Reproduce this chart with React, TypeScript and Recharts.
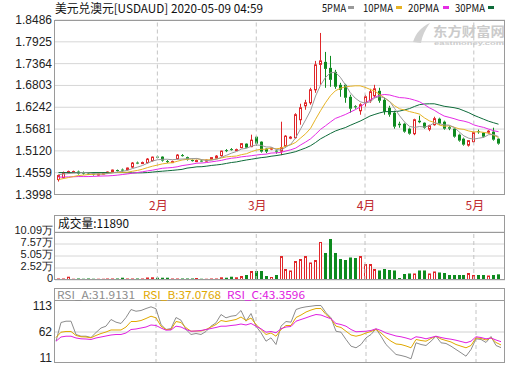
import React from 'react';
import { ComposedChart, Bar, Line, XAxis, YAxis, CartesianGrid, ReferenceLine } from 'recharts';

const RED = '#e0272a';
const GREEN = '#0d8a1e';
const C_MA5 = '#9a9a9a';
const C_MA10 = '#e6b325';
const C_MA20 = '#e52ce5';
const C_MA30 = '#0e6b3a';
const C_RSI_A = '#8c8c8c';
const C_RSI_B = '#e0a800';
const C_RSI_C = '#e020e0';

const monthStartIndex = [20, 40, 62, 84];
const monthLabels = ['2月', '3月', '4月', '5月'];
const priceTicks = [1.3998, 1.4559, 1.512, 1.5681, 1.6242, 1.6803, 1.7364, 1.7925, 1.8486];
const volumeTicks = [0, 25225, 50450, 75675, 100900];
const volumeTickLabels = ['0', '2.52万', '5.05万', '7.57万', '10.09万'];
const rsiTicks = [11, 62, 113];

const open = [1.4382,1.4434,1.4575,1.4575,1.4588,1.4562,1.4536,1.4536,1.4511,1.4524,
 1.4549,1.4575,1.4626,1.4639,1.4639,1.4703,1.4819,1.4806,1.4819,1.4870,
 1.4972,1.4972,1.4857,1.4831,1.4921,1.5011,1.4959,1.4883,1.4857,1.4870,
 1.4857,1.4896,1.4934,1.4998,1.5139,1.5165,1.5139,1.5203,1.5306,1.5229,
 1.5485,1.5357,1.5178,1.5165,1.5126,1.5113,1.5242,1.5447,1.5460,1.5921,
 1.6280,1.6357,1.6691,1.7345,1.7409,1.7255,1.7152,1.6819,1.6819,1.6511,
 1.6268,1.6152,1.6357,1.6409,1.6537,1.6665,1.6434,1.6229,1.6101,1.5819,
 1.5819,1.5691,1.5562,1.5896,1.5844,1.5678,1.5793,1.5947,1.5870,1.5729,
 1.5691,1.5537,1.5434,1.5267,1.5357,1.5626,1.5588,1.5601,1.5614,1.5434];

const close = [1.4485,1.4562,1.4588,1.4588,1.4536,1.4536,1.4524,1.4511,1.4524,1.4549,
 1.4575,1.4626,1.4613,1.4613,1.4678,1.4806,1.4806,1.4819,1.4908,1.4959,
 1.4959,1.4870,1.4831,1.4844,1.5011,1.4998,1.4896,1.4857,1.4870,1.4857,
 1.4883,1.4947,1.4985,1.5113,1.5113,1.5152,1.5152,1.5306,1.5203,1.5395,
 1.5306,1.5101,1.5101,1.5190,1.5101,1.5203,1.5498,1.5472,1.6050,1.6229,
 1.6357,1.6691,1.7332,1.7434,1.7229,1.6947,1.6768,1.6691,1.6486,1.6204,
 1.6242,1.6306,1.6511,1.6640,1.6716,1.6409,1.6127,1.6050,1.5742,1.5780,
 1.5614,1.5562,1.5921,1.5857,1.5716,1.5768,1.5947,1.5819,1.5691,1.5691,
 1.5485,1.5383,1.5280,1.5383,1.5588,1.5601,1.5485,1.5626,1.5408,1.5306];

const high = [1.4511,1.4588,1.4613,1.4613,1.4613,1.4588,1.4562,1.4562,1.4536,1.4562,
 1.4588,1.4639,1.4639,1.4665,1.4690,1.4831,1.4844,1.4844,1.4934,1.4972,
 1.4998,1.4985,1.4883,1.4870,1.5037,1.5037,1.4972,1.4896,1.4896,1.4896,
 1.4896,1.4959,1.5011,1.5126,1.5165,1.5190,1.5178,1.5318,1.5318,1.5537,
 1.5498,1.5370,1.5190,1.5203,1.5139,1.5870,1.5524,1.5498,1.6088,1.6332,
 1.6434,1.6742,1.7434,1.8153,1.7665,1.7563,1.7204,1.6870,1.6845,1.6563,
 1.6293,1.6344,1.6563,1.6716,1.6819,1.6742,1.6486,1.6280,1.6152,1.5870,
 1.5844,1.5716,1.5947,1.6024,1.5857,1.5793,1.5998,1.5973,1.5896,1.5755,
 1.5703,1.5562,1.5460,1.5395,1.5614,1.5665,1.5601,1.5652,1.5716,1.5447];

const low = [1.4331,1.4408,1.4536,1.4549,1.4511,1.4511,1.4498,1.4485,1.4485,1.4511,
 1.4536,1.4562,1.4588,1.4588,1.4613,1.4678,1.4780,1.4780,1.4793,1.4844,
 1.4934,1.4844,1.4806,1.4806,1.4896,1.4972,1.4870,1.4844,1.4831,1.4831,
 1.4844,1.4883,1.4921,1.4972,1.5088,1.5126,1.5126,1.5190,1.5190,1.5216,
 1.5254,1.5075,1.5062,1.5139,1.5049,1.5011,1.5203,1.5421,1.5434,1.5793,
 1.6178,1.6306,1.6614,1.6819,1.6742,1.6768,1.6716,1.6511,1.6357,1.6101,
 1.6204,1.6050,1.6255,1.6357,1.6486,1.6357,1.6050,1.5998,1.5691,1.5716,
 1.5588,1.5537,1.5524,1.5832,1.5691,1.5626,1.5768,1.5793,1.5665,1.5652,
 1.5460,1.5357,1.5254,1.5229,1.5331,1.5562,1.5460,1.5562,1.5383,1.5280];

const ma5 = [1.4510,1.4523,1.4536,1.4549,1.4551,1.4562,1.4554,1.4539,1.4526,1.4528,
 1.4536,1.4556,1.4577,1.4595,1.4621,1.4667,1.4703,1.4744,1.4803,1.4859,
 1.4890,1.4903,1.4905,1.4893,1.4903,1.4910,1.4916,1.4921,1.4926,1.4895,
 1.4872,1.4882,1.4908,1.4957,1.5008,1.5062,1.5103,1.5167,1.5185,1.5241,
 1.5272,1.5262,1.5221,1.5218,1.5159,1.5139,1.5218,1.5293,1.5464,1.5690,
 1.5921,1.6160,1.6531,1.6808,1.7009,1.7127,1.7142,1.7014,1.6824,1.6619,
 1.6478,1.6385,1.6349,1.6380,1.6483,1.6516,1.6480,1.6388,1.6208,1.6021,
 1.5862,1.5749,1.5723,1.5746,1.5734,1.5764,1.5841,1.5821,1.5788,1.5782,
 1.5726,1.5613,1.5505,1.5444,1.5423,1.5446,1.5467,1.5536,1.5541,1.5485];

const ma10 = [1.4382,1.4408,1.4433,1.4459,1.4485,1.4497,1.4510,1.4518,1.4523,1.4521,
 1.4544,1.4559,1.4564,1.4567,1.4572,1.4597,1.4618,1.4649,1.4690,1.4726,
 1.4754,1.4785,1.4803,1.4818,1.4851,1.4885,1.4903,1.4910,1.4916,1.4892,
 1.4887,1.4895,1.4910,1.4939,1.4967,1.4977,1.4987,1.5023,1.5046,1.5098,
 1.5139,1.5162,1.5162,1.5193,1.5172,1.5190,1.5244,1.5277,1.5341,1.5454,
 1.5562,1.5703,1.5934,1.6152,1.6357,1.6537,1.6665,1.6729,1.6768,1.6781,
 1.6793,1.6793,1.6755,1.6703,1.6652,1.6567,1.6478,1.6385,1.6278,1.6201,
 1.6172,1.6131,1.6101,1.6067,1.5970,1.5893,1.5852,1.5785,1.5754,1.5765,
 1.5729,1.5688,1.5672,1.5631,1.5606,1.5613,1.5595,1.5575,1.5523,1.5464];

const ma20 = [1.4446,1.4446,1.4451,1.4454,1.4459,1.4459,1.4459,1.4464,1.4469,1.4474,
 1.4477,1.4485,1.4497,1.4513,1.4528,1.4546,1.4564,1.4582,1.4605,1.4623,
 1.4649,1.4672,1.4682,1.4692,1.4710,1.4741,1.4759,1.4780,1.4803,1.4808,
 1.4821,1.4839,1.4857,1.4877,1.4908,1.4931,1.4944,1.4967,1.4980,1.4995,
 1.5013,1.5028,1.5036,1.5064,1.5069,1.5082,1.5116,1.5149,1.5193,1.5275,
 1.5349,1.5431,1.5547,1.5672,1.5765,1.5862,1.5954,1.6003,1.6054,1.6116,
 1.6177,1.6247,1.6344,1.6426,1.6503,1.6552,1.6570,1.6557,1.6521,1.6490,
 1.6483,1.6462,1.6426,1.6385,1.6311,1.6229,1.6165,1.6085,1.6016,1.5983,
 1.5949,1.5908,1.5885,1.5849,1.5788,1.5752,1.5724,1.5680,1.5639,1.5613];

const ma30 = [1.4562,1.4562,1.4562,1.4562,1.4562,1.4562,1.4562,1.4562,1.4562,1.4562,
 1.4562,1.4562,1.4562,1.4562,1.4556,1.4554,1.4554,1.4556,1.4562,1.4574,
 1.4587,1.4597,1.4608,1.4618,1.4631,1.4644,1.4677,1.4692,1.4710,1.4713,
 1.4728,1.4746,1.4759,1.4774,1.4798,1.4821,1.4836,1.4862,1.4885,1.4905,
 1.4926,1.4946,1.4959,1.4982,1.4998,1.5018,1.5044,1.5070,1.5101,1.5149,
 1.5195,1.5254,1.5336,1.5429,1.5498,1.5567,1.5631,1.5677,1.5718,1.5777,
 1.5831,1.5885,1.5949,1.6016,1.6059,1.6098,1.6129,1.6131,1.6129,1.6144,
 1.6175,1.6208,1.6262,1.6308,1.6326,1.6331,1.6331,1.6300,1.6267,1.6249,
 1.6231,1.6203,1.6152,1.6101,1.6037,1.5985,1.5934,1.5883,1.5844,1.5806];

const volume = [3200,3200,6900,2700,3200,2700,3200,2700,2700,2700,
 3200,3200,3200,4800,3200,3200,3200,3200,5300,5700,
 4800,4800,4800,3200,3200,3200,3200,3200,4200,2700,
 2700,3200,3200,5700,4800,6900,5700,8400,10500,18900,
 18900,18900,8400,6300,10500,50400,23100,20000,39900,44100,
 50400,36800,42000,79900,56800,86200,56800,44100,42000,47300,
 46200,50400,33600,33600,23100,20000,23100,21000,20000,4200,
 12600,13700,13700,20000,20000,13700,17900,15800,14700,10500,
 10500,10500,10500,14700,10500,10500,10500,9500,10500,11890];

const rsiA = [44.3,80.3,82.8,82.8,57.2,53.9,53.9,51.4,61,69.7,
 73.2,86.1,80.9,78.4,89.9,105.3,102,103.4,107.2,110.5,
 106.7,76.4,66.8,68.7,89.9,84.7,66.8,57.2,59.1,57.2,
 63,73.2,79.7,95.7,89.3,92.4,93.8,103.4,82.8,97.6,
 73.2,60.5,44.3,50.8,37.9,73.2,82.2,80.9,105.3,108.6,
 110.5,111.7,113,113,99,89.3,63.5,61.6,47.6,34.7,
 31.6,37.9,50.8,57.2,68.2,53.9,37.9,28.3,18.7,16.8,
 14.3,10.4,41.2,37.9,36,44.3,53.9,41.2,39.9,34.7,
 28.3,22,15.4,28.3,48.9,47.6,41.8,53.3,36,31.9131];

const rsiB = [51.4,61.6,63,63,55.3,52.8,52.4,50.8,55.3,59.1,
 62,65.9,65.9,65.9,71.6,82.2,82.2,84.1,88,92.4,
 89.3,73.2,66.8,66.8,82.2,80.3,70.1,63.5,63.9,63.9,
 66.8,71.6,76.4,84.1,82.2,84.1,86.1,90.9,84.1,88.9,
 76.4,66.8,57.2,60.1,53.9,66.8,74.5,74.5,89.9,94.7,
 100.5,104.3,107.2,107.2,95.7,87.4,73.2,70.7,63.5,56.2,
 53.9,56.2,60.1,63,66.8,60.1,51.4,44.3,38.9,37.9,
 35.1,31.6,47.6,45.6,44.3,49.5,53.9,48.5,45.6,42.8,
 37.9,34.7,31.6,36,50.8,49.5,46.6,50.8,41.8,37.0768];

const rsiC = [44.3,52.4,53.9,53.9,50.5,48.9,48.5,47.6,50.5,52.4,
 54.3,56.2,57.2,57.2,60.1,66.8,67.8,69.7,71.6,75.5,
 74.5,69.7,65.5,65.9,73.2,71.6,66.8,63.5,63.9,64.9,
 66.8,68.7,70.7,73.2,73.2,74.5,75.5,77.4,75.5,78.4,
 73.2,68.2,61.6,63,60.5,68.2,71.6,72.6,82.8,86.1,
 89.3,92.8,95.7,94.7,90.9,87.4,78.4,76.4,73.2,66.8,
 62.4,63,63.5,64.9,68.2,64.9,60.1,57.2,54.3,52.8,
 50.5,47.6,52.8,51.4,48.9,51.4,53.9,51.4,49.5,48.1,
 46.2,43.7,41.2,44.3,52.8,51.4,48.9,50.5,46.6,43.3596];

const rows = open.map((o, i) => ({
  day: String(i),
  open: o,
  close: close[i],
  high: high[i],
  low: low[i],
  range: [low[i], high[i]],
  ma5: ma5[i],
  ma10: ma10[i],
  ma20: ma20[i],
  ma30: ma30[i],
  vol: volume[i],
  rsiA: rsiA[i],
  rsiB: rsiB[i],
  rsiC: rsiC[i],
  up: close[i] >= o,
}));

const Candle = (props: any) => {
  const { x, y, width, height, payload } = props;
  if (x == null || y == null) return <g />;
  const top0 = Math.min(y, y + height);
  const h = Math.abs(height);
  const { open: o, close: c, high: hi, low: lo } = payload;
  const span = hi - lo || 1;
  const pix = (v: number) => top0 + ((hi - v) / span) * h;
  const yo = pix(o);
  const yc = pix(c);
  const up = c >= o;
  const color = up ? RED : GREEN;
  const bt = Math.min(yo, yc);
  let bb = Math.max(yo, yc);
  if (bb - bt < 1) bb = bt + 1;
  const cx = Math.floor(x + width / 2);
  return (
    <g>
      <line x1={cx + 0.5} x2={cx + 0.5} y1={top0} y2={bt} stroke={color} strokeWidth={1} />
      <line x1={cx + 0.5} x2={cx + 0.5} y1={bb} y2={top0 + h} stroke={color} strokeWidth={1} />
      {up ? (
        <rect x={cx - 0.5} y={bt} width={2} height={bb - bt} fill="#fff" stroke={color} strokeWidth={1} />
      ) : (
        <rect x={cx - 1} y={bt} width={3} height={bb - bt} fill={color} />
      )}
    </g>
  );
};

const VolBar = (props: any) => {
  const { x, y, width, height, payload } = props;
  if (x == null || y == null) return <g />;
  const top0 = Math.min(y, y + height);
  const h = Math.max(Math.abs(height), 1);
  const cx = Math.floor(x + width / 2);
  if (payload.up) {
    return <rect x={cx - 0.5} y={top0 + 0.5} width={2} height={Math.max(h - 1, 0.5)} fill="#fff" stroke={RED} strokeWidth={1} />;
  }
  return <rect x={cx - 1} y={top0} width={3} height={h} fill={GREEN} />;
};

const tickFont = 'Liberation Sans, Arial, sans-serif';
const cjkFont = '"Noto Sans CJK SC", "Liberation Sans", sans-serif';

const makeYTick = (fmt: (v: number) => string, dy: number, size: number) => (props: any) => (
  <text
    x={props.x}
    y={props.y + dy}
    textAnchor="end"
    dominantBaseline="central"
    fontSize={size}
    fill="#222"
    fontFamily={tickFont}
  >
    {fmt(props.payload.value)}
  </text>
);

const PriceTick = makeYTick((v) => v.toFixed(4), 0, 12);
const VolTick = makeYTick((v) => {
  const k = volumeTicks.indexOf(v);
  return k >= 0 ? volumeTickLabels[k] : String(v);
}, -2, 11);
const RsiTick = makeYTick((v) => String(v), 0, 12);

const MonthTick = (props: any) => {
  const idx = Number(props.payload.value);
  const k = monthStartIndex.indexOf(idx);
  if (k < 0) return <g />;
  return (
    <text x={props.x + 1} y={210} textAnchor="middle" fill="#c0282d" fontSize={12} fontFamily={cjkFont}>
      {monthLabels[k]}
    </text>
  );
};

const xPad = { left: 1, right: 4 };

const monthLines = (prefix: string) =>
  monthStartIndex.map((i) => (
    <ReferenceLine key={prefix + i} x={String(i)} stroke="#c4c4c4" strokeDasharray="4 3" />
  ));

export default function App() {
  return (
    <div style={{ position: 'absolute', left: 0, top: 0, width: 520, height: 365, background: '#fff', overflow: 'hidden' }}>
      <div style={{ position: 'absolute', left: 0, top: 0 }}>
        <ComposedChart width={520} height={215} data={rows} margin={{ top: 20, right: 15, bottom: 0, left: 0 }}>
          <CartesianGrid vertical={false} stroke="#d6d6d6" />
          <XAxis dataKey="day" interval={0} padding={xPad} height={20.5} axisLine={false} tickLine={false} tick={MonthTick} />
          <YAxis
            type="number"
            domain={[1.3998, 1.8486]}
            ticks={priceTicks}
            allowDataOverflow
            interval={0}
            width={55}
            tickSize={0}
            tickMargin={3}
            axisLine={false}
            tickLine={false}
            tick={PriceTick}
          />
          {monthLines('m')}
          <Bar dataKey="range" barSize={3} shape={Candle} isAnimationActive={false} />
          <Line dataKey="ma30" stroke={C_MA30} strokeWidth={1} dot={false} isAnimationActive={false} />
          <Line dataKey="ma20" stroke={C_MA20} strokeWidth={1} dot={false} isAnimationActive={false} />
          <Line dataKey="ma10" stroke={C_MA10} strokeWidth={1} dot={false} isAnimationActive={false} />
          <Line dataKey="ma5" stroke={C_MA5} strokeWidth={1} dot={false} isAnimationActive={false} />
        </ComposedChart>
      </div>

      <div style={{ position: 'absolute', left: 0, top: 215 }}>
        <ComposedChart width={520} height={72} data={rows} margin={{ top: 17, right: 15, bottom: 7, left: 0 }}>
          <CartesianGrid vertical={false} stroke="#d6d6d6" />
          <XAxis dataKey="day" hide padding={xPad} />
          <YAxis
            type="number"
            domain={[0, 100900]}
            ticks={volumeTicks}
            allowDataOverflow
            interval={0}
            width={55}
            tickSize={0}
            tickMargin={2}
            axisLine={false}
            tickLine={false}
            tick={VolTick}
          />
          {monthLines('v')}
          <Bar dataKey="vol" barSize={3} shape={VolBar} isAnimationActive={false} />
        </ComposedChart>
      </div>

      <div style={{ position: 'absolute', left: 0, top: 288 }}>
        <ComposedChart width={520} height={77} data={rows} margin={{ top: 13, right: 15, bottom: 2, left: 0 }}>
          <XAxis dataKey="day" hide padding={xPad} />
          <YAxis
            type="number"
            domain={[2.3, 121.7]}
            ticks={rsiTicks}
            allowDataOverflow
            interval={0}
            width={55}
            tickSize={0}
            tickMargin={3}
            axisLine={false}
            tickLine={false}
            tick={RsiTick}
          />
          <ReferenceLine y={62} stroke="#d0d0d0" />
          {monthLines('r')}
          <Line dataKey="rsiA" stroke={C_RSI_A} strokeWidth={1} dot={false} isAnimationActive={false} />
          <Line dataKey="rsiB" stroke={C_RSI_B} strokeWidth={1} dot={false} isAnimationActive={false} />
          <Line dataKey="rsiC" stroke={C_RSI_C} strokeWidth={1} dot={false} isAnimationActive={false} />
        </ComposedChart>
      </div>

      <svg style={{ position: 'absolute', left: 0, top: 0, pointerEvents: 'none' }} width={520} height={365}>
        {/* frames */}
        <rect x={54.5} y={20.5} width={450} height={174} fill="none" stroke="#9a9a9a" />
        <rect x={54.5} y={215.5} width={450} height={64} fill="none" stroke="#9a9a9a" />
        <line x1={54.5} x2={504.5} y1={232.5} y2={232.5} stroke="#9a9a9a" />
        <rect x={54.5} y={288.5} width={450} height={74} fill="none" stroke="#9a9a9a" />
        <line x1={54.5} x2={504.5} y1={300.5} y2={300.5} stroke="#9a9a9a" />

        {/* title */}
        <text x={55} y={13} fontSize={12} fill="#111" fontFamily={cjkFont} textLength={208} lengthAdjust="spacingAndGlyphs">
          美元兑澳元[USDAUD] 2020-05-09 04:59
        </text>

        {/* legend */}
        <text x={322} y={12} fontSize={11} fill="#111" fontFamily={cjkFont} textLength={24} lengthAdjust="spacingAndGlyphs">5PMA</text>
        <rect x={348} y={6} width={6} height={3} fill={C_MA5} />
        <text x={363} y={12} fontSize={11} fill="#111" fontFamily={cjkFont} textLength={30} lengthAdjust="spacingAndGlyphs">10PMA</text>
        <rect x={396} y={6} width={6} height={3} fill={C_MA10} />
        <text x={408} y={12} fontSize={11} fill="#111" fontFamily={cjkFont} textLength={31} lengthAdjust="spacingAndGlyphs">20PMA</text>
        <rect x={443} y={6} width={6} height={3} fill={C_MA20} />
        <text x={455} y={12} fontSize={11} fill="#111" fontFamily={cjkFont} textLength={30} lengthAdjust="spacingAndGlyphs">30PMA</text>
        <rect x={488} y={6} width={6} height={3} fill={C_MA30} />

        {/* watermark */}
        <path d="M413,42 C416,33 421,27 430,23 C425,30 422,36 421,43 Z" fill="#d2d2d2" />
        <text x={433} y={36} fontSize={13} fontWeight="bold" fill="#cbcbcb" fontFamily={cjkFont} textLength={72} lengthAdjust="spacingAndGlyphs">东方财富网</text>
        <text x={434} y={45} fontSize={6} fontWeight="bold" fill="#cbcbcb" fontFamily={tickFont} textLength={70} lengthAdjust="spacingAndGlyphs">eastmoney.com</text>

        {/* volume header */}
        <text x={58} y={228} fontSize={12} fill="#111" fontFamily={cjkFont} textLength={71} lengthAdjust="spacingAndGlyphs">成交量:11890</text>

        {/* rsi header */}
        <text x={57} y={299} fontSize={11} fill={C_RSI_A} fontFamily={cjkFont} textLength={78} lengthAdjust="spacingAndGlyphs">RSI_A:31.9131</text>
        <text x={143} y={299} fontSize={11} fill={C_RSI_B} fontFamily={cjkFont} textLength={78} lengthAdjust="spacingAndGlyphs">RSI_B:37.0768</text>
        <text x={227} y={299} fontSize={11} fill={C_RSI_C} fontFamily={cjkFont} textLength={78} lengthAdjust="spacingAndGlyphs">RSI_C:43.3596</text>
      </svg>
    </div>
  );
}
